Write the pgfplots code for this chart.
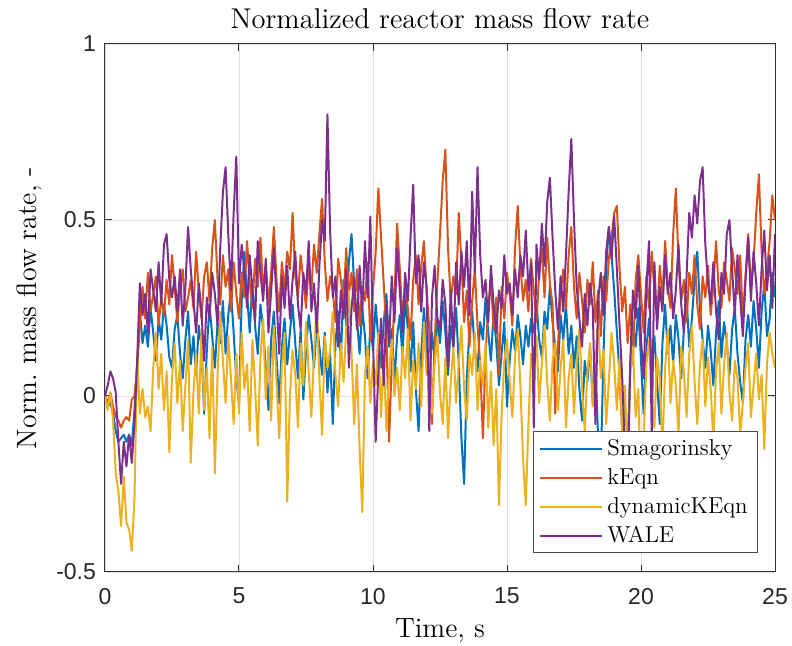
\documentclass[border=0pt]{standalone}
\usepackage{fontspec}
\usepackage{pgfplots}
\usepackage{pgfplotstable}
\pgfplotsset{compat=1.18}
\newfontfamily\ticksf{Liberation Sans}
\definecolor{mblue}{rgb}{0,0.447,0.741}
\definecolor{morange}{rgb}{0.85,0.325,0.098}
\definecolor{myellow}{rgb}{0.929,0.694,0.125}
\definecolor{mpurple}{rgb}{0.494,0.184,0.556}

\pgfplotstableread{
t s k d w
0.0 0.00 0.00 0.00 0.00
0.1 -0.03 -0.02 -0.04 0.03
0.2 -0.02 0.01 0.01 0.07
0.3 -0.05 -0.03 -0.07 0.05
0.4 -0.10 -0.06 -0.22 0.01
0.5 -0.13 -0.07 -0.27 -0.13
0.6 -0.12 -0.09 -0.37 -0.25
0.7 -0.11 -0.07 -0.23 -0.13
0.8 -0.13 -0.06 -0.36 -0.20
0.9 -0.11 -0.07 -0.38 -0.11
1.0 -0.14 -0.01 -0.44 -0.19
1.1 -0.04 0.00 -0.29 -0.08
1.2 0.09 0.08 0.11 0.10
1.3 0.24 0.20 -0.05 0.32
1.4 0.15 0.31 0.02 0.23
1.5 0.20 0.22 -0.06 0.29
1.6 0.14 0.35 -0.03 0.18
1.7 0.25 0.24 -0.10 0.36
1.8 0.18 0.29 0.08 0.30
1.9 0.10 0.34 0.18 0.24
2.0 0.22 0.20 0.02 0.38
2.1 0.16 0.28 0.12 0.26
2.2 0.26 0.23 -0.04 0.43
2.3 0.20 0.33 0.07 0.46
2.4 0.11 0.26 -0.16 0.33
2.5 0.08 0.40 0.05 0.28
2.6 0.19 0.31 0.15 0.34
2.7 0.23 0.21 -0.02 0.24
2.8 0.12 0.30 0.10 0.36
2.9 0.05 0.36 -0.10 0.20
3.0 0.16 0.24 0.03 0.31
3.1 0.24 0.28 0.16 0.48
3.2 0.09 0.33 -0.19 0.36
3.3 0.17 0.25 0.01 0.27
3.4 0.06 0.41 0.12 0.18
3.5 0.20 0.30 -0.05 0.32
3.6 0.14 0.22 0.19 0.24
3.7 -0.05 0.34 -0.04 0.10
3.8 0.13 0.38 0.08 0.28
3.9 0.26 0.27 -0.12 0.22
4.0 0.17 0.42 0.14 0.35
4.1 0.08 0.50 -0.22 0.29
4.2 0.21 0.33 0.06 0.20
4.3 0.15 0.26 0.24 0.42
4.4 0.27 0.40 0.10 0.58
4.5 0.12 0.31 -0.02 0.65
4.6 0.23 0.36 0.17 0.46
4.7 0.30 0.24 0.05 0.30
4.8 0.18 0.38 -0.08 0.52
4.9 0.05 0.29 0.12 0.68
5.0 -0.02 0.22 -0.05 0.32
5.1 0.27 0.35 0.18 0.43
5.2 0.41 0.28 0.02 0.36
5.3 0.29 0.44 0.09 0.25
5.4 0.18 0.32 -0.10 0.40
5.5 0.33 0.25 0.16 0.30
5.6 0.20 0.39 0.03 0.21
5.7 0.12 0.31 -0.14 0.44
5.8 0.26 0.45 0.11 0.35
5.9 0.19 0.30 0.22 0.27
6.0 0.08 0.37 -0.01 0.39
6.1 -0.04 0.26 0.14 0.18
6.2 0.16 0.35 -0.07 0.30
6.3 0.24 0.48 0.20 0.42
6.4 0.11 0.33 0.04 0.28
6.5 -0.02 0.24 -0.12 0.12
6.6 0.14 0.38 0.08 0.34
6.7 0.22 0.30 0.18 0.25
6.8 0.09 0.41 -0.30 0.37
6.9 0.18 0.36 0.00 0.22
7.0 0.26 0.52 0.13 0.33
7.1 0.15 0.34 0.06 0.41
7.2 0.05 0.28 -0.09 0.26
7.3 0.19 0.40 0.15 0.19
7.4 -0.01 0.33 0.03 0.35
7.5 0.13 0.25 0.21 0.29
7.6 0.23 0.37 0.07 0.44
7.7 0.16 0.30 -0.06 0.24
7.8 0.08 0.43 0.12 0.32
7.9 0.21 0.35 0.26 0.18
8.0 0.14 0.46 0.05 0.37
8.1 0.06 0.56 -0.11 0.50
8.2 0.18 0.38 0.17 0.44
8.3 0.01 0.27 0.08 0.80
8.4 0.12 0.34 0.13 0.47
8.5 -0.08 0.30 0.24 0.28
8.6 0.15 0.21 0.06 0.34
8.7 0.24 0.39 -0.03 0.14
8.8 0.10 0.33 0.15 0.30
8.9 0.33 0.26 0.04 0.22
9.0 0.20 0.42 0.19 0.36
9.1 0.38 0.29 0.30 0.08
9.2 0.46 0.35 0.12 0.25
9.3 0.31 0.24 -0.08 0.33
9.4 0.22 0.36 0.09 0.19
9.5 0.12 0.20 -0.15 0.37
9.6 0.25 0.31 -0.33 0.24
9.7 0.17 0.27 0.06 0.44
9.8 0.05 0.38 0.14 0.28
9.9 0.20 0.16 -0.02 0.51
10.0 0.13 0.30 0.10 0.16
10.1 0.26 0.41 0.03 -0.13
10.2 0.16 0.59 0.18 0.07
10.3 0.08 0.45 -0.06 0.22
10.4 0.21 0.32 0.11 0.03
10.5 0.29 0.18 -0.10 0.26
10.6 0.14 -0.13 0.07 0.15
10.7 0.19 0.10 0.16 0.34
10.8 0.04 0.28 0.00 0.21
10.9 0.17 0.49 0.08 0.42
11.0 0.23 0.36 -0.04 0.30
11.1 0.11 0.22 0.14 0.18
11.2 0.28 0.31 0.05 0.35
11.3 0.19 0.25 0.19 0.27
11.4 0.07 0.16 -0.07 0.45
11.5 0.21 0.33 0.10 0.60
11.6 0.02 0.40 0.02 0.32
11.7 -0.10 0.26 0.15 0.40
11.8 0.12 0.37 -0.03 0.24
11.9 0.25 0.44 0.21 0.38
12.0 0.13 0.30 0.06 0.31
12.1 0.04 0.19 0.12 -0.10
12.2 0.18 -0.08 -0.05 0.28
12.3 0.10 0.15 0.09 0.37
12.4 0.22 0.32 0.17 0.22
12.5 0.15 0.46 0.01 0.19
12.6 0.27 0.61 -0.08 0.33
12.7 0.18 0.70 0.11 0.26
12.8 0.06 0.42 -0.12 0.08
12.9 0.20 0.27 0.04 0.30
13.0 0.14 0.34 0.14 0.14
13.1 0.25 0.29 -0.02 0.38
13.2 0.09 0.52 0.09 0.26
13.3 -0.12 0.38 0.20 0.41
13.4 -0.25 0.21 0.02 0.31
13.5 0.05 0.30 -0.07 0.44
13.6 0.19 0.14 0.12 0.23
13.7 0.24 0.27 0.06 0.58
13.8 0.13 0.36 0.18 0.35
13.9 0.07 0.20 -0.04 0.65
14.0 0.21 0.09 0.10 0.40
14.1 0.16 -0.12 0.03 0.28
14.2 0.28 0.12 0.15 0.33
14.3 0.18 0.25 -0.09 0.21
14.4 0.10 0.33 0.07 0.37
14.5 0.24 0.19 -0.14 0.26
14.6 0.15 0.28 0.02 0.18
14.7 0.03 0.06 -0.31 0.30
14.8 0.12 0.31 -0.05 0.25
14.9 0.21 0.22 0.10 0.40
15.0 -0.03 0.35 0.16 0.29
15.1 0.10 0.29 0.04 0.32
15.2 0.19 0.20 -0.06 0.23
15.3 0.13 0.42 0.11 0.36
15.4 0.23 0.54 0.19 0.28
15.5 0.17 0.37 0.03 0.40
15.6 0.09 0.27 -0.18 0.34
15.7 0.20 0.33 -0.31 0.47
15.8 0.14 0.24 -0.08 0.30
15.9 0.22 0.39 0.12 0.38
16.0 0.18 0.30 0.06 -0.09
16.1 0.27 0.21 0.17 0.43
16.2 0.16 0.35 -0.02 0.33
16.3 0.11 0.42 0.09 0.49
16.4 0.24 0.28 0.20 0.37
16.5 0.19 0.45 0.04 0.55
16.6 0.31 0.32 -0.07 0.62
16.7 0.21 0.26 0.10 0.45
16.8 0.14 -0.05 0.15 0.30
16.9 0.07 0.14 -0.04 0.19
17.0 0.23 0.29 0.08 0.34
17.1 0.16 0.36 0.16 0.24
17.2 0.26 0.25 -0.09 0.40
17.3 0.12 0.40 0.05 0.58
17.4 0.20 0.48 0.12 0.73
17.5 0.08 0.31 -0.05 0.50
17.6 0.17 0.22 0.09 0.31
17.7 0.02 0.35 0.19 0.22
17.8 -0.07 0.27 0.02 0.14
17.9 0.10 0.18 -0.10 0.29
18.0 0.04 0.33 0.07 0.20
18.1 0.14 0.26 0.15 0.32
18.2 -0.02 0.38 -0.03 0.25
18.3 0.09 0.21 0.10 -0.08
18.4 -0.12 0.30 0.22 0.27
18.5 -0.20 0.17 0.05 0.35
18.6 0.12 0.34 0.13 0.23
18.7 0.36 0.27 -0.08 0.41
18.8 0.48 0.39 0.04 0.48
18.9 0.40 0.45 0.18 0.39
19.0 0.30 0.52 0.09 0.51
19.1 0.18 0.54 -0.04 0.36
19.2 0.06 0.36 0.11 0.20
19.3 -0.10 0.24 -0.13 0.05
19.4 -0.28 0.31 0.03 -0.15
19.5 -0.15 0.15 -0.20 -0.28
19.6 0.08 0.26 0.07 0.10
19.7 0.21 0.09 0.14 0.30
19.8 0.14 0.33 -0.06 0.22
19.9 0.25 0.40 0.02 0.37
20.0 0.10 0.29 -0.30 0.16
20.1 -0.05 0.18 -0.12 0.05
20.2 0.13 0.34 0.09 0.31
20.3 0.22 0.25 0.16 0.44
20.4 0.08 0.41 0.00 -0.12
20.5 0.17 0.30 -0.09 0.38
20.6 0.04 0.22 0.11 0.19
20.7 -0.08 0.37 0.05 0.31
20.8 0.15 0.28 -0.15 0.24
20.9 0.26 0.44 0.08 0.40
21.0 0.12 0.31 0.19 0.29
21.1 0.20 0.25 -0.02 0.35
21.2 0.09 0.46 0.10 0.22
21.3 0.23 0.59 0.03 0.30
21.4 0.16 0.38 -0.11 0.43
21.5 0.05 0.27 0.14 0.26
21.6 0.19 0.33 0.07 0.18
21.7 0.28 0.21 -0.06 0.34
21.8 0.14 0.35 0.12 0.52
21.9 0.22 0.29 0.20 0.45
22.0 0.33 0.40 0.04 0.57
22.1 0.41 0.26 -0.08 0.49
22.2 0.25 0.19 0.09 0.61
22.3 0.16 0.34 0.16 0.65
22.4 0.08 0.28 -0.03 0.43
22.5 0.20 0.37 0.11 0.32
22.6 0.13 0.23 0.02 0.26
22.7 0.03 0.31 -0.13 0.38
22.8 0.18 0.44 0.07 0.24
22.9 0.27 0.30 0.15 0.16
23.0 0.11 0.25 -0.05 0.35
23.1 0.21 0.38 0.09 0.29
23.2 0.15 0.33 0.18 0.46
23.3 0.06 0.27 0.01 0.50
23.4 0.19 0.42 -0.07 0.36
23.5 0.25 0.36 0.10 0.23
23.6 0.12 0.29 0.05 0.40
23.7 0.04 0.40 -0.11 0.28
23.8 -0.02 0.22 -0.02 0.17
23.9 0.16 0.34 0.08 0.33
24.0 0.23 0.46 0.15 0.45
24.1 0.14 0.31 -0.06 0.27
24.2 0.27 0.38 0.03 0.41
24.3 0.19 0.52 0.12 0.32
24.4 0.08 0.63 -0.01 0.20
24.5 0.24 0.41 0.06 0.36
24.6 0.32 0.29 -0.15 0.47
24.7 0.17 0.36 0.09 0.30
24.8 0.22 0.44 0.18 0.40
24.9 0.35 0.57 0.12 0.25
25.0 0.28 0.50 0.08 0.46
}\flowdata

\begin{document}
\begin{tikzpicture}
\begin{axis}[
  at={(0,0)}, anchor=south west,
  width=335pt, height=264pt, scale only axis,
  xmin=0, xmax=25, ymin=-0.5, ymax=1,
  xtick={0,5,10,15,20,25},
  ytick={-0.5,0,0.5,1},
  tick pos=both, tick align=inside,
  major tick length=3.5pt,
  grid=major,
  grid style={black!12, line width=0.4pt},
  axis line style={black!80, line width=0.5pt},
  tick style={black!80, line width=0.5pt},
  /pgf/number format/assume math mode=true,
  ticklabel style={font=\ticksf\fontsize{11.5}{13}\selectfont, text=black!85},
  xticklabel style={yshift=-4.5pt},
  yticklabel style={xshift=-1pt},
  title={Normalized reactor mass flow rate},
  title style={font=\fontsize{14.3}{16}\selectfont, at={(0.5,1)}, anchor=south, yshift=-2pt},
  xlabel={Time, s},
  ylabel={Norm.\ mass flow rate, -},
  label style={font=\fontsize{14}{16}\selectfont},
  xlabel style={yshift=0pt},
  ylabel style={yshift=0.5pt},
  legend cell align=left,
  legend style={at={(0.975,0.036)}, anchor=south east,
    font=\fontsize{11.5}{13}\selectfont,
    draw=black!70, line width=0.5pt, fill=white,
    inner xsep=3pt, inner ysep=1.5pt, row sep=1pt},
  legend image code/.code={\draw[#1] (0pt,0pt) -- (31pt,0pt);},
  every axis plot/.append style={line width=1pt, line join=round},
]
\addplot[mblue] table[x=t, y=s] {\flowdata};
\addplot[morange] table[x=t, y=k] {\flowdata};
\addplot[myellow] table[x=t, y=d] {\flowdata};
\addplot[mpurple] table[x=t, y=w] {\flowdata};
\legend{Smagorinsky, kEqn, dynamicKEqn, WALE}
\end{axis}
\pgfresetboundingbox
\path (-52.5pt,-37pt) rectangle (343.5pt,286pt);
\end{tikzpicture}
\end{document}
